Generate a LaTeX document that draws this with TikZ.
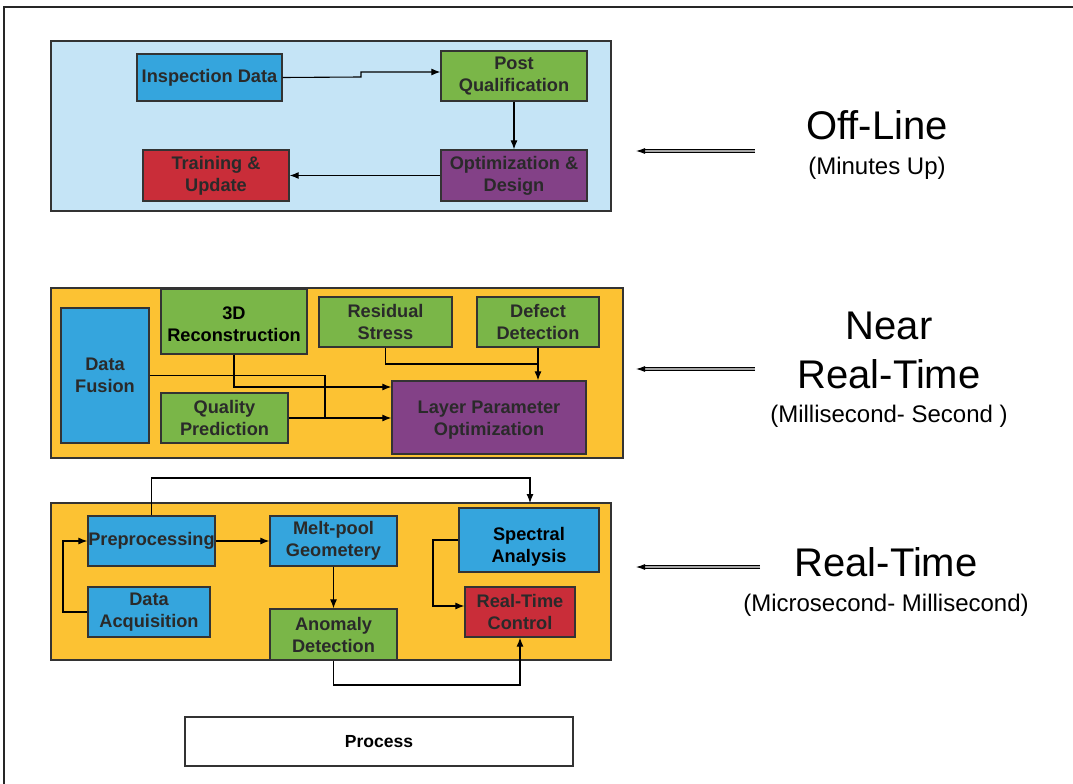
\documentclass[tikz,border=0pt]{standalone}
\usepackage{fontspec}
\setmainfont{Liberation Sans}
\usetikzlibrary{arrows.meta}
\definecolor{lblue}{HTML}{C5E4F6}
\definecolor{orng}{HTML}{FCC233}
\definecolor{nblue}{HTML}{35A5DD}
\definecolor{ngreen}{HTML}{7AB648}
\definecolor{nred}{HTML}{C92D39}
\definecolor{npurple}{HTML}{834187}
\definecolor{txt}{HTML}{2A2A2A}
\definecolor{edge}{HTML}{333333}
\newcommand\lowtxt[2]{\raisebox{-#1}[\height][\depth]{\begin{tabular}{@{}c@{}}#2\end{tabular}}}
\tikzset{
 box/.style={draw=edge, line width=1.3pt, inner sep=0pt, align=center, text=txt,
   font=\bfseries\fontsize{18.2}{22}\selectfont},
 panel/.style={draw=edge, line width=1.3pt},
 arr/.style={draw=black, line width=1.1pt, -{Latex[length=9pt,width=7pt]}},
 ln/.style={draw=black, line width=1.1pt},
 bigl/.style={font=\fontsize{40}{49}\selectfont, align=center},
 smalll/.style={font=\fontsize{24}{28}\selectfont},
 dblarr/.style={draw=black, double=gray!70, double distance=1.3pt, line width=0.9pt,
   -{Latex[length=9pt,width=6pt]}},
}
\begin{document}
\begin{tikzpicture}[x=1pt,y=-1pt]
\useasboundingbox (0,0) rectangle (1073,784);
% outer frame
\draw[draw=black!85, line width=2pt] (4,784) -- (4,7) -- (1073,7);

% panels
\draw[panel, fill=lblue] (51,41) rectangle (611,211);
\draw[panel, fill=orng] (51,288) rectangle (623,458);
\draw[panel, fill=orng] (51,503) rectangle (611,660);

% ---- Off-line
\node[box, fill=nblue, minimum width=145pt, minimum height=47pt] (insp) at (209.5,77.5) {Inspection Data};
\node[box, fill=ngreen, minimum width=146pt, minimum height=50pt] (post) at (514,76) {Post\\Qualification};
\node[box, fill=nred, minimum width=146pt, minimum height=51pt] (train) at (216,175.5) {Training \&\\Update};
\node[box, fill=npurple, minimum width=146pt, minimum height=51pt] (optd) at (514,175.5) {Optimization \&\\Design};
\draw[arr] (insp.east) -- (361,77) -- (361,72) -- (post.west |- 0,72);
\draw[arr] (post.south) -- (optd.north);
\draw[arr] (optd.west) -- (train.east);

% ---- Near real-time
\node[box, fill=nblue, minimum width=88pt, minimum height=135pt] (fusion) at (105,375.5) {Data\\Fusion};
\node[box, fill=ngreen, minimum width=146pt, minimum height=65pt, text=black] (recon) at (234,321.5) {\lowtxt{5pt}{3D\\Reconstruction}};
\node[box, fill=ngreen, minimum width=133pt, minimum height=50pt] (resid) at (385.5,322) {Residual\\Stress};
\node[box, fill=ngreen, minimum width=122pt, minimum height=50pt] (defect) at (538,322) {Defect\\Detection};
\node[box, fill=ngreen, minimum width=127pt, minimum height=50pt] (qual) at (224.5,418) {Quality\\Prediction};
\node[box, fill=npurple, minimum width=194pt, minimum height=73pt] (layer) at (489,417.5) {\lowtxt{3pt}{Layer Parameter\\Optimization}};
\draw[arr] (recon.south) -- (234,387) -- (layer.west |- 0,387);
\draw[ln] (fusion.east) -- (325,375.5) -- (325,418);
\draw[arr] (qual.east) -- (layer.west |- 0,418);
\draw[ln] (resid.south) -- (385.5,364) -- (538,364);
\draw[arr] (defect.south) -- (layer.north -| defect.south);

% ---- Real-time
\node[box, fill=nblue, minimum width=127pt, minimum height=50pt] (prep) at (151.5,541) {Preprocessing};
\node[box, fill=nblue, minimum width=127pt, minimum height=50pt] (melt) at (333.5,541) {Melt-pool\\Geometery};
\node[box, fill=nblue, minimum width=140pt, minimum height=64pt, text=black] (spec) at (529,540) {\lowtxt{7pt}{Spectral\\Analysis}};
\node[box, fill=nblue, minimum width=122pt, minimum height=50pt] (acq) at (149,612) {Data\\Acquisition};
\node[box, fill=ngreen, minimum width=127pt, minimum height=51pt] (anom) at (333.5,634.5) {Anomaly\\Detection};
\node[box, fill=nred, minimum width=110pt, minimum height=50pt] (rtc) at (520,612) {Real-Time\\Control};
\coordinate (sptop) at (530,503);
\draw[arr] (prep.north) -- (151.5,478) -| (sptop);
\draw[arr] (acq.west) -- (63,612) |- (prep.west);
\draw[arr] (prep.east) -- (melt.west);
\draw[arr] (melt.south) -- (anom.north);
\draw[arr] (spec.west) -- (433,540) |- (rtc.west |- 0,606);
\draw[arr] (anom.south) -- (333.5,685) -| (rtc.south);

% ---- Process
\node[draw=edge, line width=1.3pt, fill=white, minimum width=388pt, minimum height=49pt,
  font=\bfseries\fontsize{17.5}{20}\selectfont] (proc) at (379,741.5) {Process};

% ---- right labels
\node[bigl] (offl) at (877,125) {Off-Line};
\node[smalll] (offs) at (877,168) {(Minutes Up)};
\node[bigl] (nearl) at (889,350) {Near\\Real-Time};
\node[smalll] (nears) at (889,416) {(Millisecond- Second )};
\node[bigl] (rtl) at (886,562) {Real-Time};
\node[smalll] (rts) at (886,605) {(Microsecond- Millisecond)};

\coordinate (a1s) at (755,151); \coordinate (a1e) at (636,151);
\coordinate (a2s) at (755,369); \coordinate (a2e) at (636,369);
\coordinate (a3s) at (760,567); \coordinate (a3e) at (636,567);
\draw[dblarr] (a1s) -- (a1e);
\draw[dblarr] (a2s) -- (a2e);
\draw[dblarr] (a3s) -- (a3e);
\end{tikzpicture}
\end{document}
